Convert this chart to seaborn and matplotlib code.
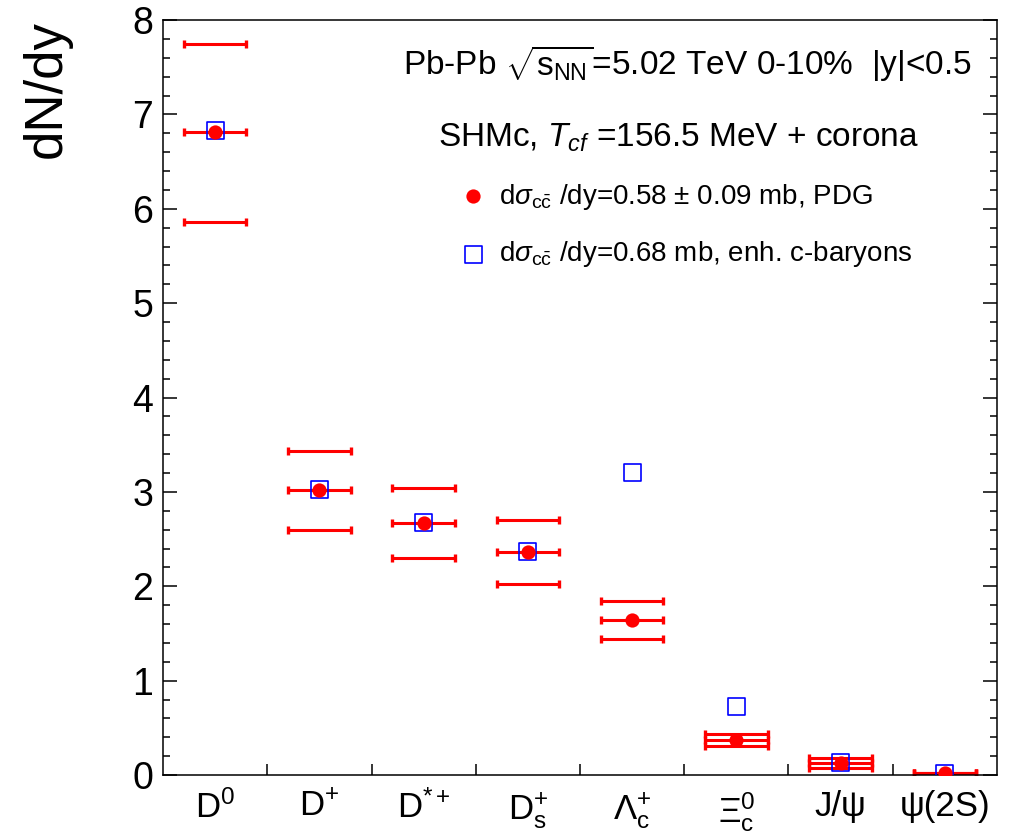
"""Charm hadron yields dN/dy in Pb-Pb, SHMc predictions (ROOT-style figure)."""

import matplotlib

matplotlib.use("Agg")
import matplotlib.pyplot as plt
import numpy as np
import pandas as pd
import seaborn as sns
from matplotlib.ticker import FixedLocator, MultipleLocator

particles = [
    "D$^{0}$",
    "D$^{+}$",
    "D$^{*+}$",
    "D$_{\\mathrm{s}}^{+}$",
    "Λ$_{\\mathrm{c}}^{+}$",
    "Ξ$_{\\mathrm{c}}^{0}$",
    "J/ψ",
    "ψ(2S)",
]
# SHMc, d sigma_cc/dy = 0.58 +- 0.09 mb (PDG): central value and band edges
pdg_central = [6.81, 3.02, 2.67, 2.36, 1.64, 0.37, 0.13, 0.020]
pdg_upper = [7.75, 3.43, 3.04, 2.70, 1.84, 0.43, 0.18, 0.024]
pdg_lower = [5.86, 2.60, 2.30, 2.02, 1.44, 0.31, 0.075, 0.016]
# SHMc, d sigma_cc/dy = 0.68 mb, enhanced c-baryons
enh_baryons = [6.83, 3.02, 2.68, 2.37, 3.21, 0.73, 0.13, 0.020]

sns.set_style("ticks")
plt.rcParams["font.family"] = ["Liberation Sans", "DejaVu Sans"]
plt.rcParams.update(
    {
        "mathtext.fontset": "custom",
        "mathtext.rm": "Liberation Sans",
        "mathtext.it": "Liberation Sans:italic",
        "mathtext.bf": "Liberation Sans:bold",
        "mathtext.sf": "Liberation Sans",
        "text.color": "black",
        "axes.labelcolor": "black",
        "axes.edgecolor": "black",
        "xtick.color": "black",
        "ytick.color": "black",
    }
)

df = pd.DataFrame(
    {
        "pos": np.arange(len(particles)),
        "pdg": pdg_central,
        "upper": pdg_upper,
        "lower": pdg_lower,
        "enh": enh_baryons,
    }
)

fig = plt.figure(figsize=(10.11, 8.36), dpi=100)
ax = fig.add_axes([163 / 1011, 61 / 836, 834 / 1011, 755 / 836])

# horizontal bars of the PDG band (central, upper, lower)
for col in ["pdg", "upper", "lower"]:
    ax.errorbar(
        df["pos"], df[col], xerr=0.3, fmt="none", ecolor="#ff0000",
        elinewidth=2.2, capsize=2.8, capthick=2.4, zorder=2,
    )

sns.scatterplot(
    data=df, x="pos", y="enh", marker="s", s=150, facecolor="none",
    edgecolor="#0000ff", linewidth=1.2, zorder=3, ax=ax,
    label="d$\\sigma_{\\mathrm{c\\bar{c}}}$ /dy=0.68 mb, enh. c-baryons",
)
sns.scatterplot(
    data=df, x="pos", y="pdg", marker="o", s=105, color="#ff0000",
    linewidth=0, zorder=4, ax=ax,
    label="d$\\sigma_{\\mathrm{c\\bar{c}}}$ /dy=0.58 ± 0.09 mb, PDG",
)

ax.set_xlim(-0.5, len(particles) - 0.5)
ax.set_ylim(0, 8)
ax.set_xlabel("")
ax.set_ylabel("")

ax.set_xticks(df["pos"])
ax.set_xticklabels(particles)
ax.xaxis.set_minor_locator(FixedLocator(np.arange(0.5, len(particles) - 1, 1.0)))
ax.tick_params(axis="x", which="major", length=0, labelsize=25, pad=11)
ax.tick_params(axis="x", which="minor", direction="in", length=8, width=1.1,
               top=False, bottom=True)

ax.yaxis.set_major_locator(MultipleLocator(1))
ax.yaxis.set_minor_locator(MultipleLocator(0.2))
ax.tick_params(axis="y", which="major", direction="in", length=10, width=1.1,
               left=True, right=True, labelsize=27, pad=7)
ax.tick_params(axis="y", which="minor", direction="in", length=5, width=1.1,
               left=True, right=True)

for sp in ax.spines.values():
    sp.set_linewidth(1.1)
    sp.set_visible(True)

fig.text(47 / 1011, 1 - 20 / 836, "dN/dy", rotation=90, ha="center",
         va="top", fontsize=38)

ax.text(0.970, 0.927,
        "Pb-Pb $\\sqrt{\\mathrm{s}_{\\mathrm{NN}}}$=5.02 TeV 0-10%  |y|<0.5",
        transform=ax.transAxes, ha="right", va="baseline", fontsize=24)
ax.text(0.3297, 0.8318, "SHMc, $T_{cf}$ =156.5 MeV + corona",
        transform=ax.transAxes, ha="left", va="baseline", fontsize=24)

handles, labels = ax.get_legend_handles_labels()
ax.legend(
    handles[::-1], labels[::-1], loc="upper left", bbox_to_anchor=(0.3594, 0.786),
    frameon=False, fontsize=20, handlelength=0.75, handletextpad=0.55,
    labelspacing=1.0, borderaxespad=0, borderpad=0,
)

fig.savefig("out.png", dpi=100)
